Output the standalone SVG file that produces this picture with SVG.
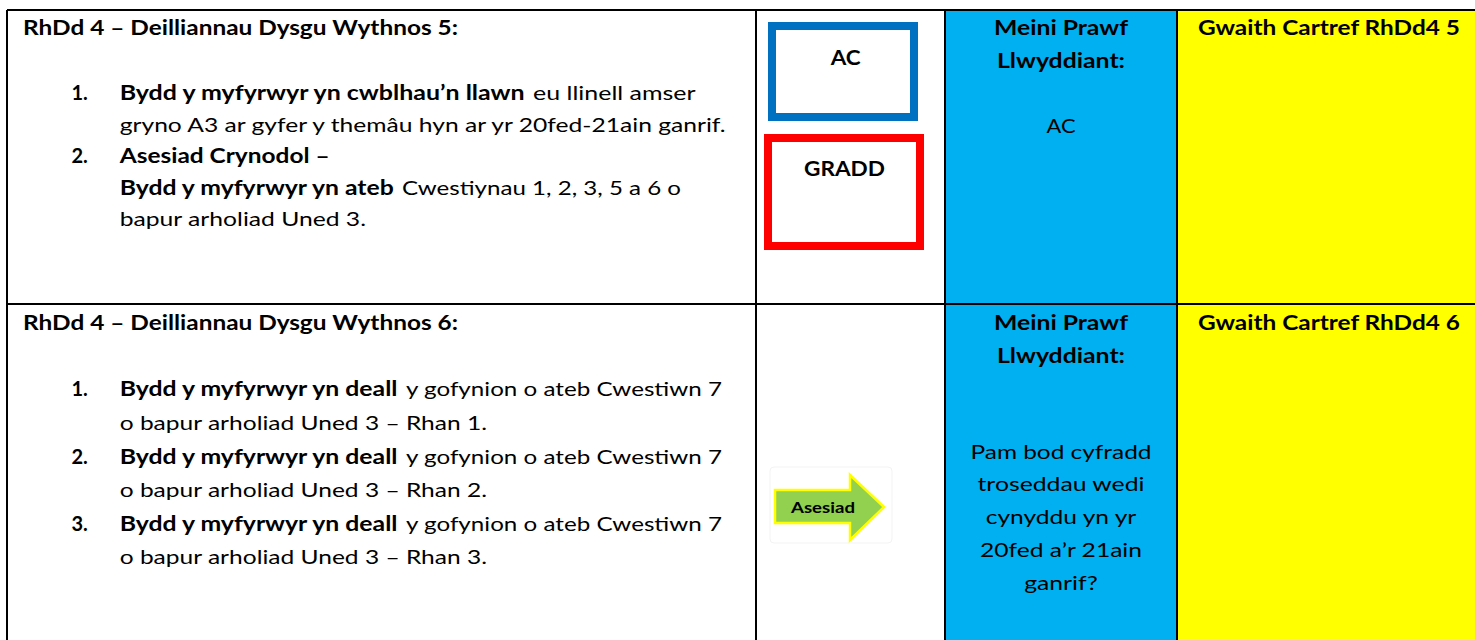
<svg xmlns="http://www.w3.org/2000/svg" width="1475" height="640" viewBox="0 0 1475 640">
<style>
  text { font-family: Lato, "Open Sans", "Liberation Sans", sans-serif; font-size: 20px; fill: #000; }
  .b { font-weight: 700; }
  .c { text-anchor: middle; }
  .grid { stroke: #000; stroke-width: 2; fill: none; }
</style>
<rect x="0" y="0" width="1475" height="640" fill="#ffffff"/>
<g id="cells">
  <rect x="945" y="10" width="232" height="630" fill="#00B0F0"/>
  <rect x="1177" y="10" width="298" height="630" fill="#FFFF00"/>
</g>
<g id="connectors" class="grid">
  <path d="M7 10 H1475 M7 304 H1475 M7 10 V640 M756 10 V640 M945 10 V640 M1177 10 V640"/>
</g>

<g id="week5-outcomes">
  <text class="b" x="23" y="35" textLength="435" lengthAdjust="spacingAndGlyphs">RhDd 4 – Deilliannau Dysgu Wythnos 5:</text>
  <text class="b" x="71.5" y="100">1.</text>
  <text class="b" x="119.7" y="100" textLength="405" lengthAdjust="spacingAndGlyphs">Bydd y myfyrwyr yn cwblhau’n llawn</text>
  <text x="533" y="100" textLength="162.6" lengthAdjust="spacingAndGlyphs">eu llinell amser</text>
  <text x="119.7" y="131.5" textLength="606" lengthAdjust="spacingAndGlyphs">gryno A3 ar gyfer y themâu hyn ar yr 20fed-21ain ganrif.</text>
  <text class="b" x="71.5" y="163">2.</text>
  <text class="b" x="119.7" y="163" textLength="210" lengthAdjust="spacingAndGlyphs">Asesiad Crynodol –</text>
  <text class="b" x="119.7" y="194.5" textLength="274" lengthAdjust="spacingAndGlyphs">Bydd y myfyrwyr yn ateb</text>
  <text x="402" y="194.5" textLength="279" lengthAdjust="spacingAndGlyphs">Cwestiynau 1, 2, 3, 5 a 6 o</text>
  <text x="119.7" y="226" textLength="246.3" lengthAdjust="spacingAndGlyphs">bapur arholiad Uned 3.</text>
</g>

<g id="week5-tags">
  <rect x="772" y="26" width="142" height="91" fill="#fff" stroke="#0070C0" stroke-width="8"/>
  <text class="b c" x="845.7" y="65" textLength="30" lengthAdjust="spacingAndGlyphs">AC</text>
  <rect x="768" y="138" width="152" height="108" fill="#fff" stroke="#FF0000" stroke-width="8"/>
  <text class="b c" x="844.5" y="176" textLength="81" lengthAdjust="spacingAndGlyphs">GRADD</text>
</g>

<g id="week5-criteria">
  <text class="b c" x="1061" y="35" textLength="134" lengthAdjust="spacingAndGlyphs">Meini Prawf</text>
  <text class="b c" x="1061" y="68" textLength="128" lengthAdjust="spacingAndGlyphs">Llwyddiant:</text>
  <text class="c" x="1061" y="133" textLength="29" lengthAdjust="spacingAndGlyphs">AC</text>
</g>

<g id="week5-homework">
  <text class="b" x="1198" y="35" textLength="262" lengthAdjust="spacingAndGlyphs">Gwaith Cartref RhDd4 5</text>
</g>

<g id="week6-outcomes">
  <text class="b" x="23" y="330" textLength="435" lengthAdjust="spacingAndGlyphs">RhDd 4 – Deilliannau Dysgu Wythnos 6:</text>
  <text class="b" x="71.5" y="396">1.</text>
  <text class="b" x="119.7" y="396" textLength="277.8" lengthAdjust="spacingAndGlyphs">Bydd y myfyrwyr yn deall</text>
  <text x="406" y="396" textLength="316" lengthAdjust="spacingAndGlyphs">y gofynion o ateb Cwestiwn 7</text>
  <text x="119.7" y="430" textLength="367.3" lengthAdjust="spacingAndGlyphs">o bapur arholiad Uned 3 – Rhan 1.</text>
  <text class="b" x="71.5" y="464">2.</text>
  <text class="b" x="119.7" y="464" textLength="277.8" lengthAdjust="spacingAndGlyphs">Bydd y myfyrwyr yn deall</text>
  <text x="406" y="464" textLength="316" lengthAdjust="spacingAndGlyphs">y gofynion o ateb Cwestiwn 7</text>
  <text x="119.7" y="497" textLength="367.3" lengthAdjust="spacingAndGlyphs">o bapur arholiad Uned 3 – Rhan 2.</text>
  <text class="b" x="71.5" y="531">3.</text>
  <text class="b" x="119.7" y="531" textLength="277.8" lengthAdjust="spacingAndGlyphs">Bydd y myfyrwyr yn deall</text>
  <text x="406" y="531" textLength="316" lengthAdjust="spacingAndGlyphs">y gofynion o ateb Cwestiwn 7</text>
  <text x="119.7" y="564" textLength="367.3" lengthAdjust="spacingAndGlyphs">o bapur arholiad Uned 3 – Rhan 3.</text>
</g>

<g id="week6-assessment">
  <rect x="770" y="467" width="122" height="76" rx="4" fill="#fff" stroke="#f3f3f3" stroke-width="1"/>
  <polygon points="775,490 850,490 850,475 884,507 850,540 850,523 775,523" fill="#92D050" stroke="#FFFF00" stroke-width="2.5" stroke-linejoin="miter"/>
  <text class="b c" x="823" y="513" style="font-size:16px" textLength="64" lengthAdjust="spacingAndGlyphs">Asesiad</text>
</g>

<g id="week6-criteria">
  <text class="b c" x="1061" y="330" textLength="134" lengthAdjust="spacingAndGlyphs">Meini Prawf</text>
  <text class="b c" x="1061" y="363" textLength="128" lengthAdjust="spacingAndGlyphs">Llwyddiant:</text>
  <text class="c" x="1061" y="459" textLength="181" lengthAdjust="spacingAndGlyphs">Pam bod cyfradd</text>
  <text class="c" x="1061" y="491" textLength="167" lengthAdjust="spacingAndGlyphs">troseddau wedi</text>
  <text class="c" x="1061" y="524" textLength="150.5" lengthAdjust="spacingAndGlyphs">cynyddu yn yr</text>
  <text class="c" x="1061" y="557" textLength="162" lengthAdjust="spacingAndGlyphs">20fed a’r 21ain</text>
  <text class="c" x="1061" y="590" textLength="73.4" lengthAdjust="spacingAndGlyphs">ganrif?</text>
</g>

<g id="week6-homework">
  <text class="b" x="1198" y="330" textLength="262" lengthAdjust="spacingAndGlyphs">Gwaith Cartref RhDd4 6</text>
</g>
</svg>
